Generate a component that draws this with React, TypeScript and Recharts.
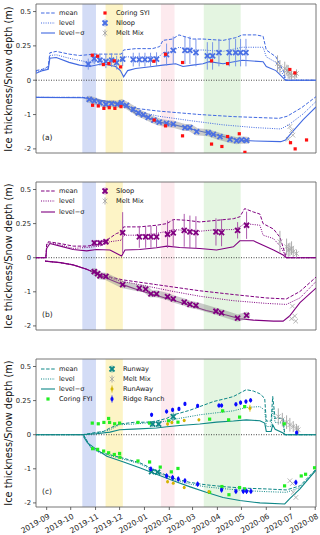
import React from 'react';
import { ComposedChart, Line, Scatter, XAxis, YAxis, ReferenceArea, ReferenceLine, ErrorBar } from 'recharts';

// x = days since 2019-09-01; values in metres (snow > 0, ice < 0)
const monthTicks = [0, 30, 61, 91, 122, 153, 182, 213, 243, 274, 304, 335];
const monthLabels = ['2019-09', '2019-10', '2019-11', '2019-12', '2020-01', '2020-02', '2020-03', '2020-04', '2020-05', '2020-06', '2020-07', '2020-08'];
const yTicks = [-2, -1, 0, 1, 2];
const yTickLabels = ['-2', '-1', '0', '0.25', '0.5'];
const bandStart = [44.5, 73.5, 142.5, 196];
const bandEnd = [61.5, 95, 159.5, 242];

// panel (a)
const aSnowMean = [[-13.3, 0.07], [-5, 0.08], [2, 0.1], [4, 0.2], [12, 0.21], [28, 0.19], [41, 0.18], [60, 0.19], [86, 0.19], [93, 0.19], [96, 0.22], [111, 0.23], [132, 0.23], [141, 0.245], [145, 0.29], [157, 0.3], [165, 0.33], [182, 0.3], [195, 0.3], [220, 0.29], [236, 0.31], [244, 0.33], [261, 0.33], [270, 0.32], [274, 0.22], [286, 0.17], [296, 0.06], [298, 0], [336, 0]];
const aSnowLevel = [[-13.3, 0.06], [-5, 0.075], [2, 0.09], [4, 0.18], [12, 0.185], [28, 0.16], [53, 0.13], [70, 0.14], [93, 0.15], [96, 0.17], [140, 0.17], [145, 0.2], [157, 0.21], [165, 0.24], [182, 0.22], [195, 0.22], [220, 0.21], [244, 0.24], [270, 0.24], [274, 0.17], [286, 0.13], [296, 0.03], [298, 0], [336, 0]];
const aSnowLow = [[-13.3, 0.05], [-5, 0.07], [2, 0.08], [4, 0.16], [12, 0.165], [28, 0.13], [41, 0.11], [53, 0.1], [70, 0.12], [86, 0.1], [92, 0.07], [96, 0.025], [101, 0.07], [111, 0.085], [132, 0.1], [145, 0.11], [161, 0.12], [170, 0.1], [182, 0.11], [195, 0.12], [203, 0.135], [220, 0.12], [244, 0.145], [270, 0.135], [274, 0.1], [286, 0.07], [296, 0.012], [298, 0], [336, 0]];
const aIceMean = [[-13.3, -0.5], [45, -0.5], [60, -0.56], [80, -0.63], [96, -0.72], [111, -0.82], [140, -0.9], [191, -1.0], [233, -1.06], [290, -1.11], [300, -1.05], [318, -0.8], [336, -0.48]];
const aIceLevel = [[-13.3, -0.5], [45, -0.5], [60, -0.57], [80, -0.65], [96, -0.75], [111, -0.9], [140, -1.05], [180, -1.18], [220, -1.3], [260, -1.38], [292, -1.42], [302, -1.3], [320, -0.98], [336, -0.62]];
const aIceLow = [[-13.3, -0.5], [45, -0.51], [60, -0.56], [80, -0.63], [96, -0.72], [111, -0.97], [125, -1.08], [140, -1.22], [160, -1.3], [180, -1.42], [200, -1.53], [220, -1.64], [241, -1.75], [260, -1.77], [292, -1.79], [298, -1.74], [306, -1.52], [320, -1.15], [336, -0.78]];
const nloopSnow = [[51.9, 0.117, 0.04], [59.4, 0.158, 0.04], [66.5, 0.146, 0.04], [73.9, 0.138, 0.05], [81, 0.146, 0.05], [87.3, 0.128, 0.05], [94.8, 0.153, 0.05], [108, 0.15, 0.05], [115.5, 0.15, 0.05], [122.6, 0.15, 0.05], [129.6, 0.15, 0.05], [137.1, 0.153, 0.05], [149.6, 0.187, 0.08], [157.9, 0.218, 0.1], [172.5, 0.218, 0.1], [178.7, 0.218, 0.1], [186.2, 0.201, 0.1], [200.4, 0.177, 0.1], [207, 0.177, 0.1], [214.9, 0.201, 0.1], [227.8, 0.201, 0.1], [235.7, 0.201, 0.1], [241.9, 0.201, 0.1], [248.6, 0.201, 0.1]];
const nloopIce = [[53.2, -0.56], [59.4, -0.6], [66.5, -0.66], [73.9, -0.7], [81, -0.68], [88.1, -0.7], [93.5, -0.66], [99.7, -0.73], [108, -0.85], [114.3, -0.95], [120.5, -1.01], [126.7, -1.08], [133.8, -1.16], [140.4, -1.22], [149.6, -1.26], [157.9, -1.28], [172.5, -1.38], [178.7, -1.38], [187.1, -1.5], [201.6, -1.53], [207.9, -1.58], [216.2, -1.64], [228.6, -1.72], [236.9, -1.76], [243.2, -1.74], [249.4, -1.75]];
const syiSnow = [[56.9, 0.182], [63.6, 0.175], [70.7, 0.114], [77.7, 0.121], [84.4, 0.141], [92.3, 0.097], [133.8, 0.138], [148.3, 0.189], [169.5, 0.129], [205.7, 0.141], [225.7, 0.121], [303.4, 0.078], [309.6, 0.053]];
const syiIce = [[57.3, -0.73], [64.4, -0.75], [71.4, -0.82], [78.1, -0.8], [85.1, -0.82], [92.7, -0.77], [134.2, -1.16], [148.3, -1.33], [169.5, -1.62], [205.7, -1.86], [218.6, -1.93], [225.7, -1.64], [240.3, -1.56], [247.3, -2.1], [304.2, -1.82], [310, -2.0], [324.2, -1.74]];
const aMeltSnow = [[288, 0.121, 0.06], [291, 0.097, 0.05], [297, 0.085, 0.05], [299.7, 0.073, 0.04], [301.3, 0.061, 0.05], [303.4, 0.049, 0.04], [305.5, 0.036, 0.03], [309.6, 0.036, 0.03], [311.7, 0.049, 0.03]];
const aMeltIce = [[303.4, -1.35], [305.5, -1.47], [307.1, -1.6], [301.3, -1.72]];

// panel (b)
const bSnowMean = [[-13.3, 0], [-1, 0], [0, 0.1], [2, 0.117], [17, 0.104], [33, 0.085], [50, 0.085], [62, 0.095], [75, 0.129], [87, 0.177], [93.5, 0.19], [96, 0.226], [116, 0.226], [137, 0.238], [150, 0.25], [158, 0.28], [175, 0.274], [191, 0.262], [212, 0.274], [233, 0.286], [241, 0.3], [247, 0.36], [258, 0.335], [266, 0.32], [270, 0.25], [283, 0.21], [291, 0.15], [299, 0], [336, 0]];
const bSnowLevel = [[-13.3, 0], [-1, 0], [0, 0.09], [2, 0.11], [17, 0.095], [33, 0.068], [50, 0.075], [66, 0.085], [79, 0.117], [93.5, 0.129], [96, 0.165], [116, 0.165], [137, 0.177], [150, 0.194], [158, 0.206], [191, 0.194], [212, 0.206], [233, 0.206], [241, 0.226], [247, 0.25], [266, 0.238], [270, 0.165], [283, 0.14], [292, 0.08], [299, 0], [336, 0]];
const bSnowLow = [[-13.3, 0], [-1, 0], [0, 0.068], [4, 0.104], [17, 0.085], [33, 0.06], [50, 0.05], [62, 0.06], [79, 0.056], [91, 0.02], [93.5, 0.012], [97.7, 0.056], [116, 0.06], [137, 0.073], [150, 0.085], [166, 0.075], [191, 0.068], [212, 0.056], [233, 0.08], [241, 0.124], [258, 0.124], [270, 0.092], [283, 0.056], [295, 0.02], [299, 0], [336, 0]];
const bIceMean = [[-2, -0.1], [17, -0.145], [33, -0.21], [50, -0.34], [62, -0.45], [67, -0.5], [95, -0.65], [116, -0.72], [137, -0.79], [158, -0.86], [191, -0.97], [233, -1.08], [274, -1.18], [299, -1.21], [316, -0.99], [336, -0.57]];
const bIceLevel = [[-2, -0.1], [17, -0.145], [33, -0.21], [50, -0.34], [62, -0.45], [67, -0.52], [95, -0.7], [116, -0.79], [137, -0.89], [158, -0.99], [191, -1.13], [233, -1.26], [274, -1.34], [299, -1.37], [316, -1.18], [336, -0.7]];
const bIceLow = [[-2, -0.1], [17, -0.145], [33, -0.21], [50, -0.34], [62, -0.47], [75, -0.6], [95, -0.79], [116, -0.96], [137, -1.11], [158, -1.25], [179, -1.4], [199, -1.55], [224, -1.68], [241, -1.79], [258, -1.83], [283, -1.86], [295, -1.86], [303, -1.71], [316, -1.32], [336, -0.89]];
const sloopSnow = [[59.4, 0.109, 0.02], [66.5, 0.109, 0.02], [73.9, 0.117, 0.02], [94.8, 0.184, 0.15], [115.6, 0.153, 0.08], [123.5, 0.153, 0.08], [130.1, 0.153, 0.08], [137.1, 0.153, 0.08], [150.8, 0.172, 0.1], [157.9, 0.182, 0.1], [171.6, 0.201, 0.12], [178.7, 0.189, 0.12], [186.2, 0.184, 0.12], [211.2, 0.189, 0.1], [218.2, 0.184, 0.1], [238.2, 0.201, 0.06], [249.4, 0.238, 0.1]];
const sloopIce = [[59.4, -0.41], [63.6, -0.47], [66.5, -0.53], [73.9, -0.55], [94.8, -0.79], [115.6, -0.89], [123.5, -0.92], [130.1, -1.06], [137.1, -1.06], [150.8, -1.14], [157.9, -1.21], [171.6, -1.3], [178.7, -1.37], [186.2, -1.4], [211.2, -1.57], [218.2, -1.62], [238.2, -1.77], [249.4, -1.69]];
const bMeltSnow = [[291, 0.117, 0.08], [299.3, 0.08, 0.06], [301.4, 0.056, 0.05], [303.4, 0.06, 0.05], [305.5, 0.07, 0.05], [307.6, 0.044, 0.04], [311.7, 0.03, 0.03]];
const bMeltIce = [[306.6, -1.42], [309.5, -1.71], [305.5, -1.79], [310.7, -1.86]];

// panel (c)
const cSnowMean = [[-13.3, 0], [44.6, 0], [62, 0.017], [71, 0.024], [79, 0.049], [91, 0.078], [108, 0.09], [125, 0.092], [137, 0.1], [150, 0.12], [158, 0.146], [166, 0.158], [179, 0.18], [191, 0.206], [208, 0.243], [225, 0.267], [233, 0.28], [249, 0.33], [258, 0.32], [266, 0.3], [272, 0.267], [274, 0.1], [280, 0.1], [282, 0.28], [285, 0.12], [295, 0.12], [297, 0], [336, 0]];
const cSnowLevel = [[-13.3, 0], [44.6, 0], [62, 0.012], [79, 0.036], [91, 0.073], [108, 0.078], [137, 0.092], [150, 0.1], [166, 0.12], [191, 0.146], [208, 0.158], [233, 0.175], [249, 0.2], [266, 0.206], [272, 0.18], [274, 0.06], [280, 0.06], [282, 0.195], [285, 0.09], [295, 0.085], [297, 0], [336, 0]];
const cSnowLow = [[-13.3, 0], [44.6, 0], [62, 0.007], [79, 0.019], [91, 0.036], [108, 0.041], [137, 0.049], [150, 0.058], [166, 0.068], [191, 0.078], [212, 0.092], [233, 0.1], [249, 0.109], [266, 0.102], [272, 0.085], [274, 0.024], [280, 0.024], [282, 0.073], [285, 0.04], [295, 0.012], [297, 0], [336, 0]];
const cIceMean = [[45.9, 0], [55, -0.37], [66, -0.51], [91, -0.66], [116, -0.82], [137, -1.06], [158, -1.28], [179, -1.4], [199, -1.47], [224, -1.53], [249, -1.57], [274, -1.59], [299, -1.62], [316, -1.5], [336, -1.01]];
const cIceLevel = [[45.9, 0], [55, -0.38], [66, -0.53], [91, -0.69], [116, -0.85], [137, -1.09], [158, -1.31], [179, -1.45], [199, -1.53], [224, -1.59], [249, -1.64], [274, -1.67], [299, -1.69], [316, -1.55], [336, -1.04]];
const cIceLow = [[45.9, -0.05], [51, -0.24], [62, -0.43], [75, -0.63], [96, -0.8], [116, -0.97], [137, -1.16], [158, -1.35], [179, -1.53], [199, -1.69], [220, -1.84], [241, -1.93], [266, -2.0], [297, -2.03], [303, -1.88], [316, -1.59], [336, -1.04]];
const runwaySnow = [[132.2, 0.078, 0.02], [139.7, 0.078, 0.02], [157.9, 0.133, 0.03]];
const runwayIce = [[130.9, -1.08], [138.4, -1.1]];
const fyiSnow = [[56.9, 0.085], [64.4, 0.08], [71.4, 0.09], [77.3, 0.119], [78.5, 0.09], [84.8, 0.08], [91, 0.085], [113.9, 0.09], [128.4, 0.085], [152.1, 0.102], [163.8, 0.092], [203.3, 0.114], [219.5, 0.175], [227, 0.109], [240.7, 0.129], [247, 0.206], [296.4, 0.08]];
const fyiIce = [[57.3, -0.41], [63.6, -0.43], [71.1, -0.48], [77.3, -0.53], [84.4, -0.58], [91, -0.55], [91.4, -0.66], [113.9, -0.77], [128.4, -0.8], [141.7, -0.95], [155.5, -1.09], [163.8, -0.99], [203.3, -1.69], [218.6, -1.52], [227.4, -1.76], [240.7, -1.55], [246.9, -1.59], [296.8, -1.5], [317.6, -1.21], [323, -1.16], [334.2, -0.97]];
const runawaySnow = [[150.8, 0.078, 0.01], [156.2, 0.09, 0.01], [171.6, 0.104, 0.01], [189.9, 0.109, 0.01], [253.6, 0.194, 0.025]];
const runawayIce = [[150.8, -1.38, 0.03], [157.9, -1.42, 0.03], [171.6, -1.55, 0.03], [202.4, -1.67, 0.03]];
const ridgeSnow = [[130.9, 0.146, 0.015], [149.6, 0.17, 0.015], [157.1, 0.182, 0.015], [165, 0.189, 0.015], [172.5, 0.226, 0.015], [188.3, 0.211, 0.015], [214.9, 0.214, 0.015], [218.2, 0.214, 0.015], [236.1, 0.223, 0.015], [241.9, 0.235, 0.015], [248.6, 0.243, 0.015], [254.4, 0.252, 0.015], [311.8, 0.015, 0.01]];
const ridgeIce = [[130, -1.01, 0.08], [149.6, -1.21, 0.08], [157.1, -1.26, 0.08], [164.2, -1.3, 0.08], [172.5, -1.35, 0.08], [188.3, -1.45, 0.08], [218.2, -1.62, 0.08], [236.1, -1.66, 0.08], [245.3, -1.66, 0.08], [249.4, -1.66, 0.08], [254.8, -1.66, 0.08], [310.9, -1.4, 0.08]];
const cMeltSnow = [[289, 0.133, 0.06], [294, 0.11, 0.05], [299.3, 0.092, 0.05], [303.4, 0.073, 0.05], [307.6, 0.06, 0.04], [311.7, 0.049, 0.03], [313.8, 0.036, 0.03]];
const cMeltIce = [[303.4, -1.35], [306.6, -1.43], [307.6, -1.69], [310.9, -1.84]];

const X_MIN = -13.3;
const X_MAX = 336;
const Y_MIN = -2.12;
const Y_MAX = 2.22;
const SNOW_K = 4; // the snow half of the axis is stretched 4x
const FONT = '"DejaVu Sans", sans-serif';
const bandColors = ['#d3dcf6', '#fdf4c6', '#fdeaee', '#e4f5e1'];
const MEAN_DASH = '3.5 1.6';
const LEVEL_DASH = '1 1.3';
const GRAY = '#a3a3a3';

const snow = (d: number[][]) => d.map(([x, v, e]) => ({ x, y: v * SNOW_K, e: e == null ? 0 : e * SNOW_K }));
const ice = (d: number[][]) => d.map(([x, v, e]) => ({ x, y: v, e: e == null ? 0 : e }));

const cross = (color: string, w: number, r: number) => (p: any) => (
  <g>
    <line x1={p.cx - r} y1={p.cy - r} x2={p.cx + r} y2={p.cy + r} stroke={color} strokeWidth={w} />
    <line x1={p.cx - r} y1={p.cy + r} x2={p.cx + r} y2={p.cy - r} stroke={color} strokeWidth={w} />
  </g>
);
const square = (color: string, s: number) => (p: any) => (
  <rect x={p.cx - s / 2} y={p.cy - s / 2} width={s} height={s} fill={color} />
);
const blob = (color: string, rx: number, ry: number) => (p: any) => (
  <ellipse cx={p.cx} cy={p.cy} rx={rx} ry={ry} fill={color} />
);

const meltShape = cross(GRAY, 0.8, 2.3);

function lines(key: string, color: string, mean: any[], level: any[], low: any[]) {
  return [
    <Line key={key + 'm'} data={mean} dataKey="y" type="linear" stroke={color} strokeWidth={1} strokeDasharray={MEAN_DASH} dot={false} activeDot={false} isAnimationActive={false} />,
    <Line key={key + 'l'} data={level} dataKey="y" type="linear" stroke={color} strokeWidth={1} strokeDasharray={LEVEL_DASH} dot={false} activeDot={false} isAnimationActive={false} />,
    <Line key={key + 's'} data={low} dataKey="y" type="linear" stroke={color} strokeWidth={1.1} dot={false} activeDot={false} isAnimationActive={false} />,
  ];
}

function marks(key: string, data: any[], shape: any, errColor?: string) {
  return (
    <Scatter key={key} data={data} dataKey="y" shape={shape} isAnimationActive={false}>
      {errColor ? <ErrorBar dataKey="e" direction="y" width={0} stroke={errColor} strokeWidth={0.9} isAnimationActive={false} /> : null}
    </Scatter>
  );
}

function trail(key: string, data: any[]) {
  return <Line key={key} data={data} dataKey="y" type="linear" stroke="#8c8c8c" strokeOpacity={0.45} strokeWidth={7} strokeLinecap="round" dot={false} activeDot={false} isAnimationActive={false} />;
}

const DateTick = ({ x, y, payload }: any) => (
  <g transform={`translate(${x + 1},${y + 1}) rotate(-30)`}>
    <text textAnchor="end" dy="0.72em" fontSize={7.6} fill="#222" fontFamily={FONT}>
      {monthLabels[monthTicks.indexOf(payload.value)]}
    </text>
  </g>
);

function LegendItem({ x, y, label, icon }: any) {
  return (
    <div style={{ position: 'absolute', left: x, top: y, height: 10, transform: 'translateY(-50%)', display: 'flex', alignItems: 'center', whiteSpace: 'nowrap' }}>
      <svg width={16} height={10} style={{ display: 'block' }}>{icon}</svg>
      <span style={{ fontSize: 6.6, marginLeft: 3, color: '#111' }}>{label}</span>
    </div>
  );
}

const lineIcon = (color: string, dash?: string) => <line x1={1} y1={5} x2={15} y2={5} stroke={color} strokeWidth={1.1} strokeDasharray={dash} />;
const markIcon = (shape: any, err?: string, errLen = 3.5) => (
  <g>
    {err ? <line x1={8} y1={5 - errLen} x2={8} y2={5 + errLen} stroke={err} strokeWidth={0.9} /> : null}
    {shape({ cx: 8, cy: 5 })}
  </g>
);

function Panel({ top, height, mTop, xh, children, tag, legend, showDates }: any) {
  const plotTop = top + mTop;
  const plotBottom = top + height - xh;
  return (
    <>
      <div style={{ position: 'absolute', left: 0, top }}>
        <ComposedChart width={320} height={height} margin={{ top: mTop, right: 4, bottom: 0, left: 0 }}>
          <XAxis
            dataKey="x"
            type="number"
            domain={[X_MIN, X_MAX]}
            ticks={monthTicks}
            interval={0}
            allowDataOverflow
            height={xh}
            axisLine={false}
            tickSize={3}
            tickLine={{ stroke: '#444', strokeWidth: 0.8 }}
            tick={showDates ? <DateTick /> : false}
          />
          <YAxis
            type="number"
            domain={[Y_MIN, Y_MAX]}
            ticks={yTicks}
            interval={0}
            allowDataOverflow
            width={36}
            axisLine={false}
            tickSize={3}
            tickLine={{ stroke: '#444', strokeWidth: 0.8 }}
            tick={{ fontSize: 6.8, fill: '#222', fontFamily: FONT }}
            tickFormatter={(v: number) => yTickLabels[yTicks.indexOf(v)]}
          />
          {bandStart.map((s, i) => (
            <ReferenceArea key={'band' + i} x1={s} x2={bandEnd[i]} y1={Y_MIN} y2={Y_MAX} fill={bandColors[i]} fillOpacity={1} stroke="none" ifOverflow="visible" />
          ))}
          <ReferenceLine y={0} stroke="#333" strokeWidth={0.9} strokeDasharray="1 1.5" />
          {children}
          <ReferenceArea x1={X_MIN} x2={X_MAX} y1={Y_MIN} y2={Y_MAX} fill="none" stroke="#666" strokeWidth={0.9} ifOverflow="visible" />
        </ComposedChart>
      </div>
      <div style={{ position: 'absolute', left: 7.5, top: (plotTop + plotBottom) / 2, transform: 'translate(-50%,-50%) rotate(-90deg)', whiteSpace: 'nowrap', fontSize: 9.8, color: '#111' }}>
        Ice thickness/Snow depth (m)
      </div>
      <div style={{ position: 'absolute', left: 42, top: plotBottom - 16, transform: 'translateY(-50%)', fontSize: 7.5, color: '#222' }}>{tag}</div>
      {legend.map((it: any, i: number) => (
        <LegendItem key={i} x={it.x} y={plotTop + it.row} label={it.label} icon={it.icon} />
      ))}
    </>
  );
}

const BLUE = '#4169e1';
const PURPLE = '#800080';
const TEAL = '#0e8787';

export default function App() {
  const nloop = cross('#4a70e4', 1.8, 2.5);
  const sloop = cross(PURPLE, 1.8, 2.5);
  const runway = cross(TEAL, 1.8, 2.5);
  const red = square('#ff1010', 3.2);
  const lime = square('#22ee22', 3.2);
  const gold = blob('#d2b400', 1.5, 1.7);
  const ridge = blob('#0a0aff', 1.6, 2.1);

  const legA = [
    { x: 40, row: 9, label: 'mean', icon: lineIcon(BLUE, MEAN_DASH) },
    { x: 40, row: 19, label: 'level', icon: lineIcon(BLUE, LEVEL_DASH) },
    { x: 40, row: 29, label: 'level\u2212\u03c3', icon: lineIcon(BLUE) },
    { x: 97, row: 9, label: 'Coring SYI', icon: markIcon(red) },
    { x: 97, row: 19, label: 'Nloop', icon: markIcon(nloop, '#6d8ce8') },
    { x: 97, row: 29, label: 'Melt Mix', icon: markIcon(meltShape, GRAY) },
  ];
  const legB = [
    { x: 40, row: 9, label: 'mean', icon: lineIcon(PURPLE, MEAN_DASH) },
    { x: 40, row: 19, label: 'level', icon: lineIcon(PURPLE, LEVEL_DASH) },
    { x: 40, row: 29.5, label: 'level\u2212\u03c3', icon: lineIcon(PURPLE) },
    { x: 97, row: 9, label: 'Sloop', icon: markIcon(sloop, '#a347a3') },
    { x: 97, row: 19, label: 'Melt Mix', icon: markIcon(meltShape, GRAY) },
  ];
  const legC = [
    { x: 40, row: 9.5, label: 'mean', icon: lineIcon(TEAL, MEAN_DASH) },
    { x: 40, row: 19.5, label: 'level', icon: lineIcon(TEAL, LEVEL_DASH) },
    { x: 40, row: 29.5, label: 'level\u2212\u03c3', icon: lineIcon(TEAL) },
    { x: 40, row: 39.5, label: 'Coring FYI', icon: markIcon(lime) },
    { x: 104, row: 9.5, label: 'Runway', icon: markIcon(runway, '#3aa0a0') },
    { x: 104, row: 19.5, label: 'Melt Mix', icon: markIcon(meltShape, GRAY) },
    { x: 104, row: 29.5, label: 'RunAway', icon: markIcon(gold, '#d2b400') },
    { x: 104, row: 39.5, label: 'Ridge Ranch', icon: markIcon(ridge, '#0a0aff') },
  ];

  return (
    <div style={{ position: 'absolute', left: 0, top: 0, width: 320, height: 535, background: '#fff', fontFamily: FONT }}>
      <Panel top={0} height={160} mTop={4} xh={7} tag="(a)" legend={legA}>
        {lines('as', BLUE, snow(aSnowMean), snow(aSnowLevel), snow(aSnowLow))}
        {lines('ai', BLUE, ice(aIceMean), ice(aIceLevel), ice(aIceLow))}
        {trail('atrail', ice(nloopIce))}
        {marks('aMeltS', snow(aMeltSnow), meltShape, GRAY)}
        {marks('aMeltI', ice(aMeltIce), meltShape)}
        {marks('nlS', snow(nloopSnow), nloop, '#6d8ce8')}
        {marks('nlI', ice(nloopIce), nloop)}
        {marks('syiS', snow(syiSnow), red)}
        {marks('syiI', ice(syiIce), red)}
      </Panel>
      <Panel top={175} height={160} mTop={7} xh={5} tag="(b)" legend={legB}>
        {lines('bs', PURPLE, snow(bSnowMean), snow(bSnowLevel), snow(bSnowLow))}
        {lines('bi', PURPLE, ice(bIceMean), ice(bIceLevel), ice(bIceLow))}
        {trail('btrail', ice(sloopIce))}
        {marks('bMeltS', snow(bMeltSnow), meltShape, GRAY)}
        {marks('bMeltI', ice(bMeltIce), meltShape)}
        {marks('slS', snow(sloopSnow), sloop, '#a347a3')}
        {marks('slI', ice(sloopIce), sloop)}
      </Panel>
      <Panel top={352} height={183} mTop={7} xh={28} tag="(c)" legend={legC} showDates>
        {lines('cs', TEAL, snow(cSnowMean), snow(cSnowLevel), snow(cSnowLow))}
        {lines('ci', TEAL, ice(cIceMean), ice(cIceLevel), ice(cIceLow))}
        {marks('cMeltS', snow(cMeltSnow), meltShape, GRAY)}
        {marks('cMeltI', ice(cMeltIce), meltShape)}
        {marks('fyiS', snow(fyiSnow), lime)}
        {marks('fyiI', ice(fyiIce), lime)}
        {marks('rwS', snow(runwaySnow), runway, '#3aa0a0')}
        {marks('rwI', ice(runwayIce), runway)}
        {marks('raS', snow(runawaySnow), gold, '#d2b400')}
        {marks('raI', ice(runawayIce), gold, '#d2b400')}
        {marks('rrS', snow(ridgeSnow), ridge, '#0a0aff')}
        {marks('rrI', ice(ridgeIce), ridge, '#0a0aff')}
      </Panel>
    </div>
  );
}
